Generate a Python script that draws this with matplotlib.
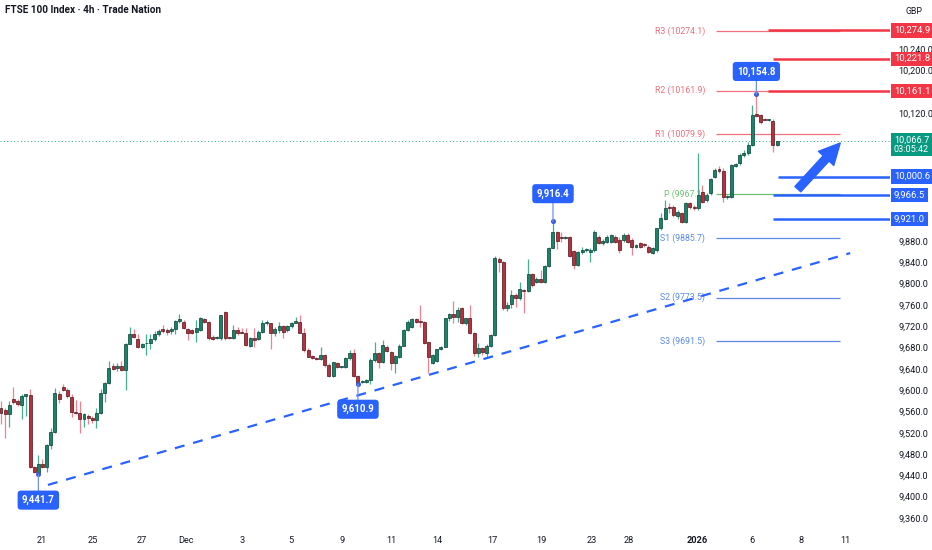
import matplotlib
matplotlib.use("Agg")
import matplotlib.pyplot as plt
import numpy as np
from matplotlib.transforms import blended_transform_factory

plt.rcParams['font.family'] = ['Roboto', 'DejaVu Sans']

# 4h candles (open, high, low, close)
opens = [9566.9, 9561.9, 9554.4, 9582.5, 9579.4, 9571.9, 9588.8, 9590.0, 9456.3, 9445.0,
         9460.7, 9455.7, 9496.9, 9521.9, 9593.2, 9605.7, 9599.4, 9586.9, 9559.4, 9557.5,
         9545.0, 9551.3, 9548.2, 9544.4, 9556.3, 9593.8, 9613.8, 9644.4, 9640.7, 9645.0,
         9636.9, 9686.9, 9705.7, 9695.0, 9681.3, 9687.5, 9687.5, 9696.3, 9704.4, 9715.0,
         9711.9, 9710.7, 9715.0, 9729.4, 9728.1, 9715.0, 9712.5, 9709.4, 9712.5, 9733.1,
         9728.1, 9700.0, 9696.9, 9696.9, 9746.9, 9698.8, 9696.9, 9712.5, 9707.5, 9707.5,
         9682.5, 9698.1, 9695.0, 9709.4, 9726.3, 9725.0, 9706.3, 9712.5, 9720.0, 9712.5,
         9720.0, 9726.3, 9728.1, 9706.3, 9675.0, 9663.8, 9660.6, 9657.5, 9665.6, 9646.9,
         9626.9, 9651.3, 9643.8, 9643.8, 9659.4, 9670.0, 9626.9, 9615.6, 9615.6, 9618.8,
         9656.3, 9670.0, 9651.9, 9681.3, 9672.0, 9650.2, 9662.7, 9683.4, 9712.8, 9719.0,
         9732.8, 9728.4, 9728.4, 9689.6, 9651.5, 9654.6, 9676.5, 9681.5, 9734.7, 9742.2,
         9737.8, 9753.4, 9725.3, 9734.7, 9707.8, 9669.0, 9678.4, 9669.0, 9683.4, 9703.4,
         9846.0, 9839.7, 9753.4, 9761.6, 9778.4, 9772.2, 9787.8, 9786.0, 9817.2, 9802.2,
         9807.8, 9802.2, 9832.8, 9867.2, 9896.0, 9886.6, 9884.8, 9886.6, 9861.6, 9834.7,
         9859.7, 9862.0, 9859.8, 9862.9, 9886.7, 9876.7, 9878.6, 9878.6, 9887.9, 9881.7,
         9881.7, 9891.1, 9881.7, 9867.9, 9875.4, 9872.3, 9869.2, 9857.9, 9862.9, 9903.6,
         9920.5, 9944.2, 9944.2, 9926.7, 9931.7, 9916.1, 9950.5, 9944.2, 9941.1, 9971.1,
         9956.7, 9969.2, 10000.5, 10014.3, 10011.1, 9963.0, 9963.0, 10020.5, 10025.5, 10041.2,
         10044.3, 10059.9, 10118.1, 10116.2, 10108.1, 10106.8, 10105.6, 10060.0]
highs = [9579.4, 9566.9, 9579.4, 9605.7, 9582.5, 9591.9, 9593.2, 9601.3, 9458.0, 9477.5,
         9470.0, 9498.0, 9529.4, 9604.4, 9598.2, 9610.7, 9604.4, 9591.9, 9580.7, 9579.4,
         9556.3, 9555.7, 9551.3, 9566.9, 9601.3, 9615.7, 9654.4, 9651.3, 9651.3, 9654.4,
         9688.8, 9718.8, 9715.0, 9704.4, 9688.8, 9705.7, 9704.4, 9710.7, 9715.0, 9721.9,
         9716.9, 9718.1, 9730.7, 9741.9, 9731.3, 9716.0, 9715.0, 9731.3, 9737.5, 9735.0,
         9729.4, 9703.0, 9701.3, 9741.0, 9748.8, 9700.0, 9721.9, 9718.8, 9715.6, 9715.6,
         9700.0, 9715.6, 9712.5, 9731.3, 9731.3, 9726.3, 9717.5, 9728.1, 9721.9, 9721.9,
         9728.1, 9736.3, 9740.6, 9715.6, 9678.1, 9665.0, 9661.3, 9680.0, 9667.5, 9650.0,
         9653.1, 9653.1, 9646.0, 9662.5, 9675.0, 9676.3, 9628.1, 9618.8, 9620.0, 9659.4,
         9690.6, 9671.9, 9693.8, 9684.4, 9674.0, 9665.9, 9686.0, 9714.0, 9732.0, 9735.0,
         9735.0, 9759.7, 9730.0, 9690.9, 9668.0, 9678.0, 9683.0, 9736.0, 9744.0, 9767.2,
         9756.6, 9756.6, 9736.0, 9759.7, 9709.0, 9689.0, 9680.0, 9686.5, 9705.0, 9851.6,
         9850.4, 9842.0, 9766.0, 9787.8, 9781.6, 9803.4, 9789.1, 9846.0, 9819.0, 9812.8,
         9825.3, 9834.0, 9869.0, 9916.4, 9899.0, 9897.3, 9890.0, 9889.0, 9862.9, 9861.0,
         9868.0, 9866.0, 9866.0, 9900.4, 9891.0, 9884.0, 9891.0, 9893.0, 9891.0, 9887.9,
         9894.0, 9895.0, 9884.8, 9875.0, 9878.0, 9876.7, 9872.0, 9868.0, 9905.0, 9931.7,
         9956.7, 9950.5, 9947.4, 9938.0, 9934.8, 9953.6, 9953.0, 9947.4, 10045.5, 9985.0,
         9969.2, 9998.0, 10016.0, 10020.5, 10016.1, 9966.0, 10024.3, 10026.0, 10044.3, 10050.0,
         10066.2, 10135.0, 10154.8, 10118.1, 10110.0, 10109.0, 10108.1, 10068.0]
lows = [9535.7, 9510.6, 9530.7, 9573.2, 9570.0, 9545.0, 9551.3, 9454.4, 9444.5, 9441.7,
        9454.4, 9447.0, 9488.8, 9519.0, 9576.3, 9598.2, 9585.7, 9549.4, 9555.7, 9520.0,
        9530.7, 9535.7, 9538.8, 9529.4, 9555.7, 9578.2, 9612.0, 9637.0, 9635.7, 9635.7,
        9600.0, 9685.7, 9698.2, 9679.4, 9679.4, 9665.0, 9676.3, 9692.0, 9701.3, 9707.5,
        9703.2, 9705.7, 9705.7, 9726.3, 9713.8, 9693.8, 9705.0, 9690.6, 9711.0, 9726.0,
        9693.8, 9693.8, 9695.0, 9693.8, 9693.8, 9695.5, 9695.0, 9703.1, 9706.3, 9682.5,
        9681.3, 9681.3, 9693.8, 9706.3, 9721.9, 9676.9, 9701.3, 9706.3, 9696.9, 9709.4,
        9715.6, 9725.0, 9706.3, 9671.9, 9661.3, 9657.5, 9656.3, 9656.3, 9643.8, 9625.0,
        9625.0, 9642.0, 9640.6, 9640.6, 9656.3, 9625.0, 9610.9, 9613.8, 9612.5, 9612.0,
        9653.1, 9640.6, 9650.0, 9671.9, 9638.0, 9631.5, 9660.0, 9682.0, 9710.0, 9716.0,
        9726.0, 9719.0, 9687.0, 9631.5, 9648.0, 9652.0, 9675.0, 9680.0, 9730.0, 9725.3,
        9728.4, 9724.0, 9722.0, 9705.3, 9664.6, 9662.7, 9665.0, 9662.7, 9681.0, 9702.0,
        9822.2, 9751.0, 9749.0, 9753.4, 9756.6, 9769.0, 9744.0, 9784.7, 9794.0, 9800.0,
        9800.3, 9800.0, 9831.0, 9866.0, 9865.0, 9878.5, 9883.0, 9850.0, 9826.6, 9832.0,
        9856.0, 9860.0, 9841.0, 9860.0, 9875.0, 9872.0, 9876.0, 9876.0, 9876.0, 9856.7,
        9878.0, 9876.0, 9853.6, 9866.0, 9867.0, 9867.9, 9857.9, 9856.0, 9860.0, 9900.4,
        9919.2, 9931.7, 9925.5, 9920.5, 9913.0, 9913.0, 9940.0, 9938.0, 9938.0, 9950.5,
        9953.6, 9966.0, 9998.0, 10008.0, 9953.6, 9958.0, 9960.0, 10018.0, 10022.0, 10038.0,
        10042.0, 10058.0, 10113.1, 10100.0, 10106.0, 10104.0, 10047.4, 10058.0]
closes = [9557.5, 9554.4, 9571.9, 9578.2, 9573.2, 9588.8, 9591.9, 9456.3, 9446.0, 9460.7,
          9455.7, 9496.9, 9521.9, 9593.8, 9582.5, 9599.4, 9588.8, 9559.4, 9557.5, 9545.0,
          9554.4, 9548.2, 9543.2, 9556.3, 9593.8, 9613.8, 9640.7, 9638.8, 9644.4, 9636.9,
          9686.9, 9705.7, 9699.4, 9681.3, 9686.9, 9687.9, 9696.3, 9704.4, 9710.7, 9710.7,
          9709.4, 9715.0, 9729.4, 9733.8, 9715.6, 9706.3, 9707.5, 9715.6, 9734.4, 9728.1,
          9696.9, 9695.0, 9700.0, 9740.6, 9696.9, 9697.0, 9712.5, 9706.3, 9707.0, 9684.4,
          9698.1, 9693.8, 9709.4, 9725.0, 9726.8, 9706.3, 9713.8, 9720.0, 9709.4, 9720.0,
          9726.3, 9730.0, 9707.5, 9675.0, 9662.5, 9659.4, 9657.5, 9665.6, 9646.9, 9626.9,
          9651.9, 9643.8, 9644.2, 9660.6, 9670.0, 9626.9, 9614.0, 9616.0, 9618.8, 9656.3,
          9670.0, 9651.9, 9684.4, 9673.1, 9651.0, 9664.0, 9683.4, 9712.8, 9728.4, 9732.8,
          9728.4, 9728.0, 9689.0, 9662.7, 9666.0, 9676.5, 9681.5, 9734.7, 9742.2, 9737.8,
          9750.3, 9725.3, 9734.7, 9706.5, 9669.0, 9678.4, 9672.0, 9683.4, 9703.4, 9847.2,
          9839.7, 9753.4, 9759.7, 9778.4, 9772.2, 9789.1, 9786.0, 9817.2, 9797.2, 9807.8,
          9802.2, 9832.8, 9867.2, 9896.0, 9880.0, 9884.8, 9887.9, 9852.2, 9834.7, 9859.7,
          9862.9, 9864.0, 9862.0, 9897.3, 9876.7, 9880.4, 9887.9, 9891.1, 9878.6, 9862.9,
          9891.1, 9878.6, 9869.2, 9872.3, 9869.2, 9872.0, 9859.8, 9866.1, 9903.6, 9922.3,
          9941.1, 9941.1, 9928.6, 9934.8, 9916.1, 9950.5, 9944.0, 9941.1, 9966.1, 9953.6,
          9966.1, 9996.1, 10013.0, 10011.1, 9963.0, 9964.0, 10022.4, 10024.3, 10041.2, 10045.0,
          10059.9, 10116.2, 10114.3, 10103.7, 10107.5, 10107.2, 10059.9, 10066.7]

# time axis labels
tick_labels = ['21', '25', '27', 'Dec', '3', '5', '9', '11', '14', '17', '19', '23', '28',
               '2026', '6', '8', '11']
tick_pos = [9.9, 22.2, 34.0, 44.6, 58.1, 69.9, 82.2, 94.0, 105.1, 118.3, 130.1, 142.4,
            151.3, 167.7, 181.0, 192.8, 203.4]

# price scale labels that stay visible (the rest sit under the tags)
price_ticks = [9360, 9400, 9440, 9480, 9520, 9560, 9600, 9640, 9680, 9720, 9760, 9800,
               9840, 9880, 10120, 10200, 10240]

# pivot points
pivot_names = ['R3', 'R2', 'R1', 'P', 'S1', 'S2', 'S3']
pivot_values = [10274.1, 10161.9, 10079.9, 9967.1, 9885.7, 9773.5, 9691.5]

# horizontal levels drawn on the chart
resist_levels = [10274.9, 10221.8, 10161.1]
support_levels = [10000.6, 9966.5, 9921.0]

# rising trend line (candle index, price)
trend_x = [11.3, 204.6]
trend_y = [9422.0, 9857.0]

# expected move arrow (candle index, price)
arrow_x = [192.0, 202.2]
arrow_y = [9977.0, 10063.5]

time_left = '03:05:42'

opens = np.array(opens)
highs = np.array(highs)
lows = np.array(lows)
closes = np.array(closes)
idx = np.arange(len(closes))

GREEN = '#16866b'
GREEN_EDGE = '#0c3a30'
GREEN_WICK = '#48ad91'
RED = '#bb2f3c'
RED_EDGE = '#4f1219'
RED_WICK = '#ec8390'
BLUE = '#2962ff'
TAG_RED = '#f23645'

fig = plt.figure(figsize=(9.32, 5.5), dpi=100)
ax = fig.add_axes([0, 22 / 550, 890 / 932, 528 / 550])
ax.set_xlim(-0.24, 214.2)
ax.set_ylim(9341.2, 10331.9)

up = closes >= opens
ax.vlines(idx[up], lows[up], highs[up], color=GREEN_WICK, lw=0.9, zorder=3)
ax.vlines(idx[~up], lows[~up], highs[~up], color=RED_WICK, lw=0.9, zorder=3)
body = np.maximum(np.abs(closes - opens), 1.2)
bottom = np.minimum(opens, closes)
ax.bar(idx[up], body[up], bottom=bottom[up], width=0.72, color=GREEN,
       edgecolor=GREEN_EDGE, linewidth=0.5, zorder=4)
ax.bar(idx[~up], body[~up], bottom=bottom[~up], width=0.72, color=RED,
       edgecolor=RED_EDGE, linewidth=0.5, zorder=4)

# pivot lines with labels
piv_colors = {'R': '#f0707d', 'P': '#6fbf73', 'S': '#5c8ae6'}
for name, val in zip(pivot_names, pivot_values):
    c = piv_colors[name[0]]
    ax.hlines(val, 172.3, 202.2, color=c, lw=0.9, zorder=2)
    ax.text(169.6, val, f'{name} ({val})', color=c, fontsize=6.3, ha='right',
            va='center', zorder=1)

# drawn levels
for v, x0 in zip(resist_levels, [184.8, 186.0, 184.8]):
    ax.hlines(v, x0, 214.2, color=TAG_RED, lw=1.8, zorder=5)
for v, x0 in zip(support_levels, [187.2, 186.0, 186.0]):
    ax.hlines(v, x0, 214.2, color=BLUE, lw=1.8, zorder=5)

# last price line
ax.axhline(closes[-1], color='#22a884', lw=0.7, ls=(0, (1, 2.5)), zorder=2)

# trend line and arrow
ax.plot(trend_x, trend_y, color=BLUE, lw=1.6, ls=(0, (4.5, 4)), zorder=5)
ax.annotate('', xy=(arrow_x[1], arrow_y[1]), xytext=(arrow_x[0], arrow_y[0]),
            arrowprops=dict(arrowstyle='simple,head_length=1.0,head_width=1.0,tail_width=0.38',
                            color=BLUE, mutation_scale=15, shrinkA=0, shrinkB=0),
            zorder=6)

# callouts on swing points
lo1 = int(np.argmin(lows))
lo2 = 60 + int(np.argmin(lows[60:100]))
hi1 = 100 + int(np.argmax(highs[100:150]))
hi2 = int(np.argmax(highs))
callouts = [(lo1, lows[lo1], -18.5), (lo2, lows[lo2], -18),
            (hi1, highs[hi1], 20), (hi2, highs[hi2], 16.5)]
for i, v, dy in callouts:
    ax.plot(i, v, 'o', ms=2.6, color='#3b5bdb', zorder=7)
    ax.annotate(f'{v:,.1f}', xy=(i, v), xytext=(0, dy), textcoords='offset points',
                ha='center', va='center', color='white', fontsize=7, fontweight='bold',
                bbox=dict(boxstyle='round,pad=0.45,rounding_size=0.35', fc=BLUE, ec='none'),
                arrowprops=dict(arrowstyle='-', color='#6f8ff5', lw=0.9,
                                shrinkA=0, shrinkB=0),
                zorder=8)

# axes styling
for s in ax.spines.values():
    s.set_visible(False)
ax.yaxis.tick_right()
ax.set_yticks(price_ticks)
ax.set_yticklabels([f'{v:,.1f}' for v in price_ticks])
ax.tick_params(axis='y', length=0, pad=6, labelsize=6.6, labelcolor='#131722')
ax.set_xticks(tick_pos)
ax.set_xticklabels(tick_labels)
ax.tick_params(axis='x', length=0, pad=6, labelsize=6.6, labelcolor='#131722')
for lab in ax.get_xticklabels():
    if lab.get_text() == '2026':
        lab.set_fontweight('bold')

# price tags
tr = blended_transform_factory(ax.transAxes, ax.transData)
tag_x = 1.0 + 4 / 890
for v in resist_levels:
    ax.text(tag_x, v, f'{v:,.1f}', transform=tr, color='white', fontsize=6.8,
            ha='left', va='center', clip_on=False, zorder=10,
            bbox=dict(boxstyle='square,pad=0.28', fc=TAG_RED, ec='none'))
for v in support_levels:
    ax.text(tag_x, v, f'{v:,.1f}', transform=tr, color='white', fontsize=6.8,
            ha='left', va='center', clip_on=False, zorder=10,
            bbox=dict(boxstyle='square,pad=0.28', fc=BLUE, ec='none'))
ax.text(tag_x, closes[-1] - 6, f'{closes[-1]:,.1f}\n{time_left}', transform=tr,
        color='white', fontsize=6.6, ha='left', va='center', linespacing=1.1,
        clip_on=False, zorder=10,
        bbox=dict(boxstyle='square,pad=0.28', fc='#089981', ec='none'))

fig.text(906 / 932, 1 - 12 / 550, 'GBP', fontsize=6.3, color='#131722', ha='left', va='center')
ax.text(5 / 890, 1 - 10 / 528, 'FTSE 100 Index · 4h · Trade Nation', transform=ax.transAxes,
        fontsize=7.2, fontweight='bold', color='#131722', ha='left', va='center')

fig.savefig('out.png', dpi=100, facecolor='white')
